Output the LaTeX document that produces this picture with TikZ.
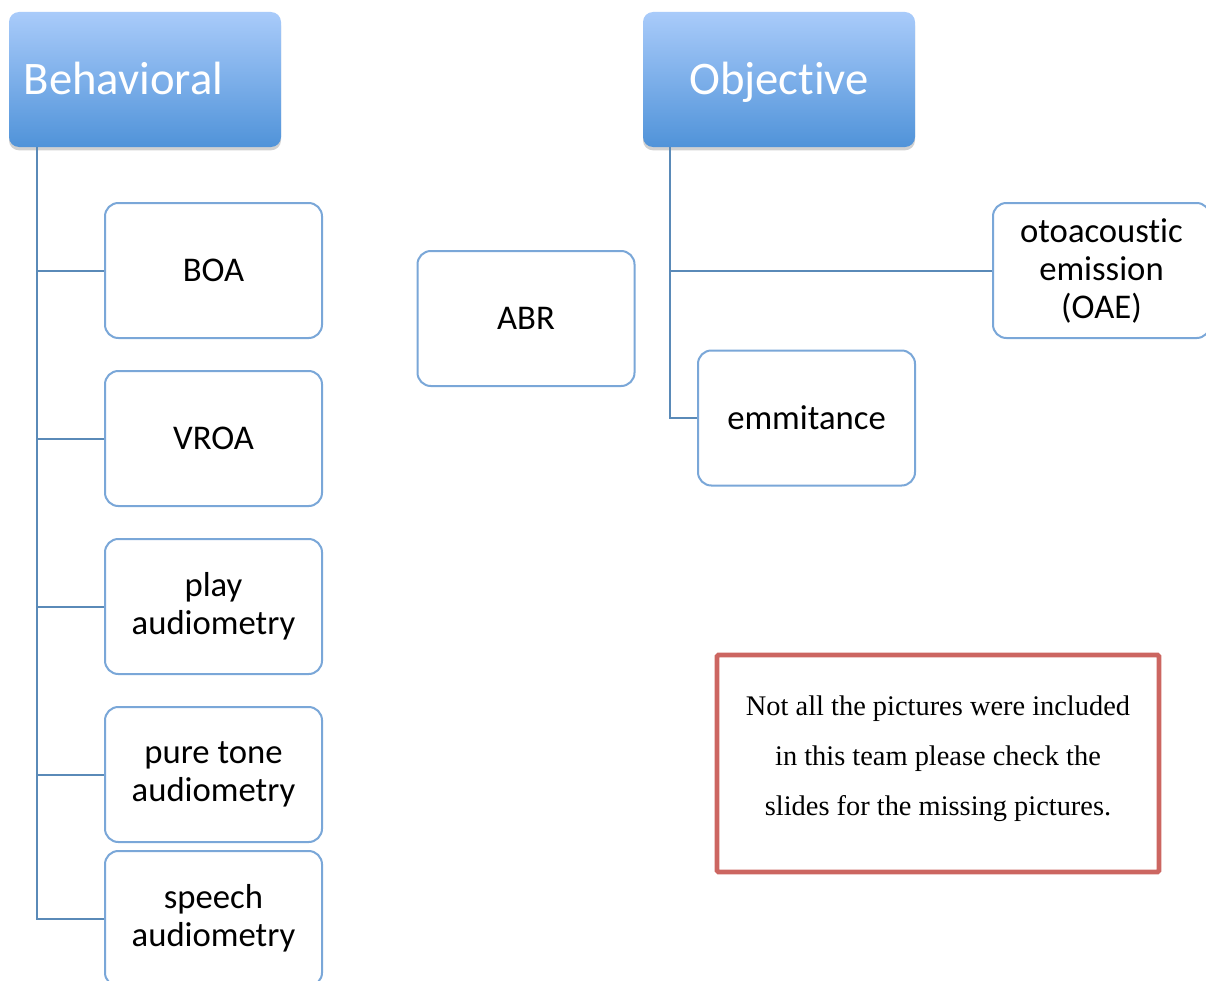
\documentclass[tikz,border=0pt]{standalone}
\usepackage{fontspec}
\setmainfont{Carlito}[Ligatures={NoCommon}, RawFeature=-liga]
\newfontfamily\notefont{Liberation Serif}
\usepackage{tikz}
\usetikzlibrary{positioning}
\usetikzlibrary{shadows}
\definecolor{headtop}{HTML}{A9CBFA}
\definecolor{headbot}{HTML}{5093D9}
\definecolor{boxline}{HTML}{7AA7D8}
\definecolor{linkblue}{HTML}{5A8AB8}
\definecolor{noteline}{HTML}{CC6661}
\tikzset{my_header/.style={rectangle, rounded corners=7.5pt, top color=headtop, bottom color=headbot, draw=none, text=white, font=\fontsize{35}{40}\selectfont, inner xsep=11pt, text width=182pt, text height=22.5pt, text depth=0pt, minimum height=101.25pt, drop shadow={shadow xshift=0pt, shadow yshift=-2.5pt, opacity=0.3, fill=black!60}}}
\tikzset{my_box/.style={rectangle, rounded corners=10pt, draw=boxline, line width=1.5pt, fill=white, align=center, font=\fontsize{26}{28.5}\selectfont, minimum width=162.75pt, minimum height=101.25pt}}
\tikzset{my_branch/.style={draw=linkblue, line width=1.5pt, to path={|- (\tikztotarget)}}}
\tikzset{my_note/.style={rectangle, rounded corners=1pt, draw=noteline, line width=3.4pt, align=center, font=\notefont\fontsize{21.3}{37.5}\selectfont, text depth=12.5pt, minimum width=331.5pt, minimum height=162.75pt}}

\begin{document}
\begin{tikzpicture}[x=0.75pt, y=-0.75pt]
    \useasboundingbox (0,0) rectangle (1206,981);
    %\draw[help lines, step=100] (0,0) grid (1206,981);
    \node[my_header, align=left] (behav) at (145,79.5) {Behavioral};
    \node[my_header, align=center] (objec) at (779,79.5) {Objective};

    \coordinate (btrunk) at (37,147);
    \coordinate (otrunk) at (670,147);

    \node[my_box] (boa) at (213.5,270.5) {BOA};
    \node[my_box] (vroa) at (213.5,438.5) {VROA};
    \node[my_box] (play) at (213.5,606.5) {play\\audiometry};
    \node[my_box] (pure) at (213.5,774.5) {pure tone\\audiometry};
    \node[my_box] (speech) at (213.5,918.5) {speech\\audiometry};

    \node[my_box] (abr) at (526,318.5) {ABR};
    \node[my_box] (oae) at (1101.5,270.5) {otoacoustic\\emission\\(OAE)};
    \node[my_box] (emm) at (806.5,418) {emmitance};

    \path
        (btrunk) edge [my_branch] (boa.west)
        (btrunk) edge [my_branch] (vroa.west)
        (btrunk) edge [my_branch] (play.west)
        (btrunk) edge [my_branch] (pure.west)
        (btrunk) edge [my_branch] (speech.west)
        (otrunk) edge [my_branch] (oae.west)
        (otrunk) edge [my_branch] (emm.west)
    ;

    \node[my_note] (note) at (938,763.5) {Not all the pictures were included\\in this team please check the\\slides for the missing pictures.};
\end{tikzpicture}
\end{document}
